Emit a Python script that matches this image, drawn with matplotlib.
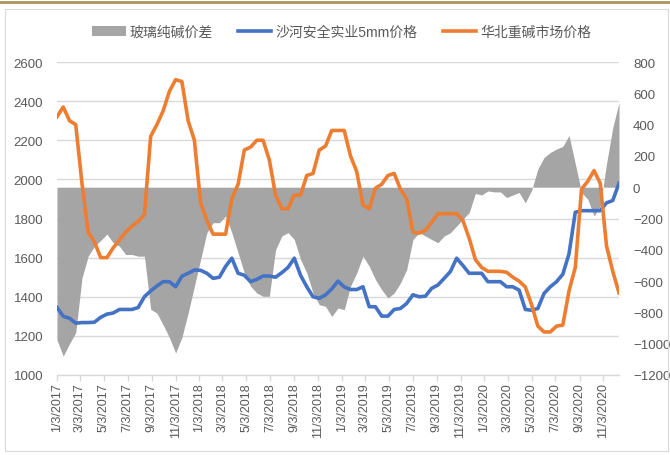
import numpy as np
import pandas as pd
import matplotlib
matplotlib.use('Agg')
import matplotlib.pyplot as plt
from matplotlib.patches import Rectangle, Patch
from matplotlib.lines import Line2D

plt.rcParams['font.family'] = ['Liberation Sans', 'Noto Sans CJK SC', 'DejaVu Sans']

# data: one value every 16 days from 2017-01-03
start = '2017-01-03'
n_pts = 91

glass = [1345, 1300, 1290, 1265, 1268, 1268, 1270, 1295, 1311, 1317,
         1335, 1335, 1335, 1345, 1400, 1430, 1455, 1477, 1477, 1451,
         1505, 1520, 1537, 1535, 1520, 1494, 1500, 1555, 1597, 1520,
         1510, 1477, 1489, 1506, 1506, 1500, 1523, 1550, 1597, 1510,
         1451, 1400, 1392, 1409, 1440, 1480, 1450, 1437, 1437, 1451,
         1349, 1349, 1301, 1301, 1335, 1340, 1366, 1410, 1400, 1403,
         1443, 1460, 1494, 1529, 1597, 1560, 1520, 1520, 1520, 1477,
         1477, 1477, 1451, 1451, 1434, 1335, 1331, 1340, 1417, 1451,
         1477, 1515, 1620, 1832, 1840, 1840, 1840, 1840, 1880, 1892,
         1980]

soda = [2320, 2370, 2300, 2280, 1980, 1730, 1680, 1600, 1600, 1650,
        1690, 1730, 1760, 1785, 1820, 2220, 2280, 2350, 2450, 2510,
        2500, 2300, 2200, 1880, 1790, 1720, 1720, 1720, 1900, 1975,
        2150, 2165, 2200, 2200, 2100, 1920, 1850, 1850, 1920, 1920,
        2020, 2030, 2150, 2170, 2250, 2250, 2250, 2120, 2040, 1870,
        1850, 1955, 1975, 2020, 2030, 1950, 1900, 1730, 1725, 1740,
        1780, 1825, 1825, 1825, 1825, 1790, 1700, 1590, 1550, 1530,
        1530, 1530, 1525, 1500, 1480, 1450, 1360, 1250, 1220, 1220,
        1250, 1255, 1430, 1550, 1950, 1990, 2045, 1980, 1660, 1530,
        1420]

spread = [-975, -1080, -1000, -930, -580, -440, -377, -340, -300, -355,
          -377, -430, -430, -441, -441, -780, -804, -880, -960, -1060,
          -960, -804, -633, -462, -291, -227, -227, -184, -291, -419,
          -548, -633, -676, -697, -697, -400, -312, -290, -334, -462,
          -548, -676, -751, -761, -826, -772, -783, -633, -548, -440,
          -505, -590, -655, -708, -676, -612, -526, -334, -291, -312,
          -334, -355, -312, -291, -248, -205, -163, -40, -50, -24,
          -30, -30, -66, -50, -34, -100, -20, 116, 190, 222,
          244, 261, 330, 150, -34, -77, -184, -120, 150, 380,
          540]

legend_labels = ['玻璃纯碱价差', '沙河安全实业5mm价格', '华北重碱市场价格']

dates = pd.date_range(start, periods=n_pts, freq='16D')
tick_dates = [pd.Timestamp(start) + pd.DateOffset(months=2 * k) for k in range(24)]
tick_labels = [f'{d.month}/{d.day}/{d.year}' for d in tick_dates]

c_gray = '#A5A5A5'
c_blue = '#4472C4'
c_orange = '#ED7D31'
c_text = '#595959'
c_grid = '#D9D9D9'

fig = plt.figure(figsize=(6.7, 4.56), dpi=100)

# outer frame + top band
fig.patches.append(Rectangle((5 / 670, 4 / 456), 663 / 670, 442 / 456,
                             transform=fig.transFigure, fill=False,
                             edgecolor='#D9D9D9', lw=0.8))
fig.lines.append(Line2D([0, 1], [1 - 3 / 456, 1 - 3 / 456],
                        transform=fig.transFigure, color='#AB9460', lw=2))

rect = [57 / 670, 80 / 456, 562 / 670, 313 / 456]
ax = fig.add_axes(rect)
ax2 = ax.twinx()
ax.set_zorder(ax2.get_zorder() + 1)
ax.patch.set_visible(False)

# area (right axis)
ax2.fill_between(dates, spread, 0, color=c_gray, lw=0, zorder=2)
ax2.set_ylim(-1200, 800)
ax2.set_yticks(np.arange(-1200, 801, 200))

# gridlines at left-axis levels, drawn behind the area
for v in range(1000, 2601, 200):
    ax2.axhline((v - 1000) / 1600 * 2000 - 1200, color=c_grid, lw=1, zorder=0)

# lines (left axis)
ax.plot(dates, glass, color=c_blue, lw=2.6, solid_joinstyle='round')
ax.plot(dates, soda, color=c_orange, lw=2.6, solid_joinstyle='round')
ax.set_ylim(1000, 2600)
ax.set_yticks(np.arange(1000, 2601, 200))
ax.set_xlim(dates[0], dates[-1])
ax.set_xticks(tick_dates)
ax.set_xticklabels(tick_labels, rotation=90)

for a in (ax, ax2):
    for s in ('left', 'right', 'top', 'bottom'):
        a.spines[s].set_visible(False)
ax.spines['bottom'].set_visible(True)
ax.spines['bottom'].set_color(c_grid)
ax.spines['bottom'].set_linewidth(1)

ax.tick_params(axis='y', length=0, pad=10, labelsize=9.5, labelcolor=c_text)
ax2.tick_params(axis='y', length=0, pad=10, labelsize=9.5, labelcolor=c_text)
ax.tick_params(axis='x', length=4, width=1, color=c_grid, pad=1,
               labelsize=9, labelcolor=c_text)
ax2.tick_params(axis='x', length=0, labelbottom=False)

handles = [Patch(facecolor=c_gray, edgecolor='none'),
           Line2D([], [], color=c_blue, lw=2.6),
           Line2D([], [], color=c_orange, lw=2.6)]
fig.legend(handles, legend_labels, loc='center', bbox_to_anchor=(0.51, 0.928),
           ncol=3, frameon=False, fontsize=10, labelcolor=c_text,
           handlelength=2.4, handletextpad=0.3, columnspacing=1.8)

fig.savefig('out.png', dpi=100)
